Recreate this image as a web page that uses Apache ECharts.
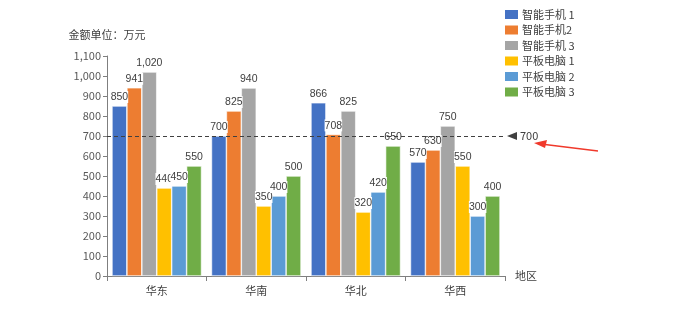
<!DOCTYPE html>
<html><head><meta charset="utf-8">
<script src="https://cdn.jsdelivr.net/npm/echarts@6/dist/echarts.min.js"></script>
<style>html,body{margin:0;padding:0;background:#fff}#c{width:680px;height:328px}</style>
</head><body><div id="c"></div>
<script>
const categories = ['华东', '华南', '华北', '华西'];
const seriesNames = ['智能手机 1', '智能手机2', '智能手机 3', '平板电脑 1', '平板电脑 2', '平板电脑 3'];
const phone1 = [850, 700, 866, 570];
const phone2 = [941, 825, 708, 630];
const phone3 = [1020, 940, 825, 750];
const pad1 = [440, 350, 320, 550];
const pad2 = [450, 400, 420, 300];
const pad3 = [550, 500, 650, 400];
const referenceValue = 700;
const colors = ['#4472C4', '#ED7D31', '#A5A5A5', '#FFC000', '#5B9BD5', '#70AD47'];
const allData = [phone1, phone2, phone3, pad1, pad2, pad3];
const fmt = v => v.toLocaleString('en-US');
const font = '"Noto Sans CJK SC", "Liberation Sans", sans-serif';

const series = allData.map((d, i) => ({
  name: seriesNames[i],
  type: 'bar',
  data: d,
  barGap: '0%',
  barCategoryGap: '10%',
  itemStyle: { color: colors[i], borderColor: '#fff', borderWidth: 0.6 },
  label: {
    show: true, position: 'top', distance: 3,
    formatter: p => fmt(p.value),
    color: '#404040', fontSize: 10.5, fontFamily: '"Liberation Sans", "Noto Sans", sans-serif',
    backgroundColor: '#fff', padding: [1, 0, 0, 0]
  }
}));
series[0].markLine = {
  silent: true,
  symbol: ['none', 'triangle'],
  symbolSize: [8, 10],
  symbolRotate: [0, 90],
  symbolOffset: [0, [0, 7]],
  lineStyle: { type: [4, 3], color: '#404040', width: 1 },
  label: { show: true, position: 'end', distance: 15, formatter: () => fmt(referenceValue), color: '#404040', fontSize: 11, fontFamily: font },
  data: [{ yAxis: referenceValue }]
};

const chart = echarts.init(document.getElementById('c'), null, { renderer: 'canvas' });
chart.setOption({
  animation: false,
  textStyle: { fontFamily: font },
  color: colors,
  legend: {
    orient: 'vertical', left: 498, top: 3,
    itemWidth: 15, itemHeight: 11, itemGap: 2.5,
    icon: 'rect',
    textStyle: { fontSize: 11, color: '#404040', fontFamily: font, padding: [0, 0, 0, -2] },
    data: seriesNames
  },
  grid: { left: 107, right: 175, top: 56, bottom: 52 },
  xAxis: {
    type: 'category', data: categories,
    name: '地区', nameGap: 10,
    nameTextStyle: { color: '#404040', fontSize: 11, verticalAlign: 'middle' },
    axisLine: { lineStyle: { color: '#7f7f7f' } },
    axisTick: { show: true, length: 5, lineStyle: { color: '#7f7f7f' } },
    axisLabel: { color: '#404040', fontSize: 11, margin: 9 }
  },
  yAxis: {
    type: 'value', min: 0, max: 1100, interval: 100,
    name: '金额单位：万元', nameGap: 16,
    nameTextStyle: { color: '#404040', fontSize: 11 },
    axisLine: { show: true, lineStyle: { color: '#7f7f7f' } },
    axisTick: { show: true, length: 4, lineStyle: { color: '#7f7f7f' } },
    splitLine: { show: false },
    axisLabel: { color: '#595959', fontSize: 11, margin: 6, formatter: v => fmt(v) }
  },
  series: series,
  graphic: [
    { type: 'line', shape: { x1: 598, y1: 151, x2: 545, y2: 144.5 }, style: { stroke: '#f0392b', lineWidth: 1.5 } },
    { type: 'polygon', shape: { points: [[534, 143], [547, 140], [545, 148]] }, style: { fill: '#f0392b' } }
  ]
});
</script>
</body></html>
